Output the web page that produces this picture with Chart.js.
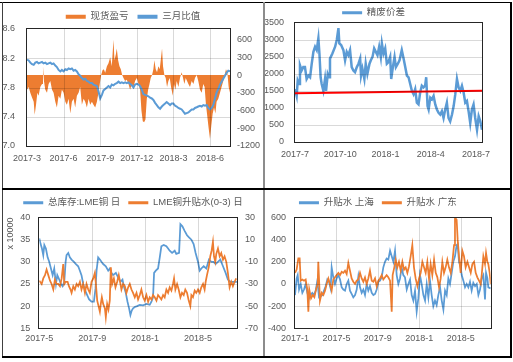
<!DOCTYPE html>
<html>
<head>
<meta charset="utf-8">
<script src="https://cdn.jsdelivr.net/npm/chart.js@4.4.0/dist/chart.umd.min.js"></script>
<style>
  body { margin: 0; background: #fff; }
  #wrap { position: relative; width: 513px; height: 362px; overflow: hidden; background: #fff; }
  canvas { position: absolute; z-index: 1; }
  .rule { position: absolute; background: #000; z-index: 3; }
  .grid { position: absolute; background: rgba(0, 0, 0, 0.15); z-index: 2; }
  .frame { position: absolute; background: #262626; z-index: 2; }
</style>
</head>
<body>
<div id="wrap">
  <canvas id="c1" width="260" height="185" style="left:3px;top:3px"></canvas>
  <canvas id="c2" width="245" height="185" style="left:265px;top:3px"></canvas>
  <canvas id="c3" width="260" height="166" style="left:3px;top:190px"></canvas>
  <canvas id="c4" width="245" height="166" style="left:265px;top:190px"></canvas>
  <div class="rule" style="left:0;top:2px;width:512px;height:1px"></div>
  <div class="rule" style="left:2px;top:2px;width:1px;height:356px;background:#404040"></div>
  <div class="rule" style="left:263px;top:2px;width:2px;height:356px;background:#8c8c8c"></div>
  <div class="rule" style="left:2px;top:188px;width:510px;height:2px"></div>
  <div class="rule" style="left:2px;top:356px;width:510px;height:2px"></div>
  <div class="rule" style="left:510px;top:2px;width:2px;height:356px"></div>
</div>
<script>
// 现货盈亏 / 三月比值, months since 2017-3
const profitMonths = [0,0.14,0.27,0.41,0.55,0.63,0.74,0.85,0.95,1.09,1.23,1.31,1.39,1.50,1.64,1.77,1.91,2.05,2.18,2.32,2.45,2.59,2.73,2.86,3.00,3.14,3.27,3.41,3.55,3.68,3.82,3.95,4.09,4.23,4.36,4.50,4.64,4.77,4.91,5.05,5.18,5.32,5.45,5.59,5.73,5.86,6.00,6.08,6.19,6.30,6.41,6.55,6.68,6.82,6.95,7.09,7.17,7.28,7.36,7.47,7.58,7.69,7.80,7.91,8.04,8.18,8.32,8.45,8.59,8.73,8.86,9.00,9.14,9.27,9.38,9.49,9.60,9.71,9.82,9.93,10.04,10.14,10.25,10.36,10.44,10.55,10.66,10.77,10.88,10.99,11.07,11.15,11.26,11.37,11.48,11.59,11.70,11.81,11.95,12.05,12.16,12.27,12.41,12.54,12.68,12.79,12.90,13.01,13.12,13.23,13.36,13.50,13.64,13.77,13.91,14.04,14.18,14.32,14.45,14.56,14.67,14.78,14.89,15.00,15.11,15.22,15.33,15.44,15.54,15.68,15.82,15.95,16.09,16.20,16.31,16.42,16.53,16.64];
const profitValues = [-250,-200,-300,-380,-450,-670,-500,-300,-350,-200,-150,150,-100,-250,-300,-150,-100,-250,-300,-450,-550,-350,-400,-250,-300,-450,-500,-400,-650,-450,-400,-550,-350,-300,-200,-500,-400,-450,-550,-400,-500,-450,-500,-550,-450,-300,-100,0,80,100,40,150,200,300,150,600,250,350,450,250,150,100,0,-50,-100,-80,-150,-250,-150,-200,-100,-50,-150,-250,-600,-780,-800,-750,-400,-250,-150,-50,0,100,250,100,50,150,100,300,450,150,0,-50,-200,-100,-50,-200,-350,-150,-250,-100,-200,-50,50,-50,-150,-50,-100,-150,-200,-100,-150,-50,0,-100,-250,-300,-150,-200,-500,-700,-900,-1080,-850,-650,-550,-650,-450,-400,-300,-200,-100,0,100,50,-200,-300];
const ratioMonths = [0,0.14,0.27,0.41,0.55,0.68,0.82,0.95,1.09,1.23,1.36,1.50,1.64,1.77,1.91,2.05,2.18,2.32,2.45,2.59,2.73,2.86,3.00,3.14,3.27,3.41,3.55,3.68,3.82,3.95,4.09,4.23,4.36,4.50,4.64,4.77,4.91,5.05,5.18,5.32,5.45,5.59,5.73,5.86,6.00,6.14,6.27,6.41,6.55,6.68,6.82,6.95,7.09,7.23,7.36,7.50,7.64,7.77,7.91,8.05,8.18,8.32,8.45,8.59,8.73,8.86,9.00,9.14,9.27,9.41,9.54,9.68,9.82,9.95,10.09,10.23,10.36,10.50,10.64,10.77,10.91,11.05,11.18,11.32,11.45,11.59,11.73,11.86,12.00,12.14,12.27,12.41,12.55,12.68,12.82,12.95,13.09,13.23,13.36,13.50,13.64,13.77,13.91,14.04,14.18,14.32,14.45,14.59,14.73,14.86,15.00,15.14,15.27,15.41,15.54,15.68,15.82,15.95,16.09,16.23,16.36,16.50,16.64];
const ratioValues = [8.18,8.17,8.14,8.12,8.11,8.14,8.15,8.13,8.14,8.15,8.13,8.14,8.12,8.13,8.14,8.12,8.13,8.10,8.08,8.04,8.02,8.04,8.02,8.05,8.04,8.06,8.05,8.06,8.03,8.04,8.02,7.98,7.96,7.93,7.91,7.92,7.89,7.88,7.86,7.86,7.84,7.83,7.82,7.75,7.65,7.70,7.76,7.78,7.80,7.82,7.80,7.84,7.83,7.85,7.86,7.88,7.86,7.87,7.86,7.87,7.86,7.87,7.85,7.83,7.80,7.84,7.85,7.84,7.82,7.77,7.71,7.70,7.69,7.68,7.66,7.65,7.63,7.59,7.56,7.53,7.51,7.54,7.56,7.58,7.60,7.58,7.56,7.58,7.58,7.55,7.54,7.52,7.51,7.50,7.47,7.44,7.45,7.46,7.48,7.50,7.50,7.52,7.53,7.54,7.55,7.54,7.56,7.55,7.56,7.52,7.50,7.52,7.56,7.65,7.73,7.78,7.84,7.88,7.92,7.96,8.00,8.03,8.02];
const ratioTicks = [7.0, 7.4, 7.8, 8.2, 8.6];
const profitTicks = [-1200, -900, -600, -300, 0, 300, 600];

// 精废价差, months since 2017-7
const spreadMonths = [0,0.11,0.18,0.27,0.33,0.44,0.55,0.66,0.77,0.89,1.00,1.11,1.22,1.33,1.44,1.55,1.62,1.70,1.77,1.88,1.99,2.06,2.17,2.26,2.32,2.48,2.66,2.77,2.88,2.94,3.06,3.21,3.32,3.43,3.54,3.65,3.76,3.87,3.98,4.10,4.21,4.32,4.38,4.47,4.60,4.69,4.80,4.94,5.03,5.14,5.25,5.36,5.47,5.58,5.69,5.76,5.87,5.98,6.09,6.20,6.31,6.38,6.49,6.60,6.69,6.82,6.93,7.08,7.20,7.31,7.42,7.53,7.64,7.75,7.86,7.97,8.08,8.19,8.30,8.41,8.52,8.63,8.70,8.79,8.86,8.97,9.08,9.19,9.30,9.41,9.52,9.63,9.74,9.85,9.96,10.07,10.18,10.29,10.41,10.52,10.63,10.74,10.85,10.96,11.07,11.18,11.29,11.40,11.51,11.62,11.73,11.84,11.95,12.07,12.18,12.29,12.40];
const spreadValues = [1550,1350,1800,1700,2250,2100,2200,2200,1850,1950,1900,2300,2650,2800,2700,3050,2600,1900,1700,1500,1850,1500,2000,1900,2450,2600,2800,3000,3350,2900,2850,2700,2400,2650,2550,2700,2200,2100,2050,2200,2300,2450,1950,2150,1850,2300,2000,2300,2400,2500,2750,2650,2550,2800,2500,2900,2600,2750,2300,2350,2500,1850,2200,2500,2200,2300,2400,2700,2450,2200,1950,1900,1700,1500,1400,1550,1150,1100,1450,1650,1600,1650,1900,1050,950,1300,1250,1350,1100,950,850,800,900,700,950,1150,700,600,800,1050,1400,1850,1600,1500,1650,1450,1150,1200,900,550,950,1100,700,350,750,600,350];
const trendMonths = [0, 12.4];
const trendValues = [1430, 1500];
const spreadTicks = [0, 500, 1000, 1500, 2000, 2500, 3000, 3500];

// 总库存:LME铜 / LME铜升贴水(0-3), months since 2017-5
const stockMonths = [0,0.10,0.20,0.30,0.38,0.50,0.63,0.75,0.88,1.01,1.13,1.26,1.36,1.51,1.64,1.76,1.89,1.99,2.06,2.19,2.31,2.44,2.62,2.77,2.94,3.07,3.19,3.32,3.47,3.62,3.77,3.95,4.13,4.25,4.33,4.45,4.58,4.70,4.83,5.03,5.21,5.33,5.46,5.58,5.79,5.96,6.14,6.29,6.39,6.54,6.67,6.79,6.89,6.99,7.09,7.22,7.40,7.60,7.85,8.10,8.35,8.48,8.60,8.68,8.81,8.98,9.11,9.23,9.41,9.61,9.74,9.86,10.04,10.24,10.36,10.57,10.67,10.82,10.99,11.17,11.32,11.50,11.67,11.82,12.00,12.13,12.25,12.43,12.63,12.83,13.01,13.18,13.33,13.51,13.69,13.89,14.09,14.26,14.44,14.64,14.94];
const stockValues = [35.3,34,33,31.5,33.8,33,31,30,28.5,27,28.5,25,27,26,25,24.5,25.5,30,31.5,32,31,30.5,30,29.5,29,28,27,25,23.5,22.5,21.5,21,21,24,28,31,30.5,30,29.5,29,28,28.5,27.5,27,27.5,26.5,25.5,26,24.5,23,21,19.5,18,19,19.5,19.8,20,20.3,20.2,20.5,20.3,21,22,27.5,28,28.5,31,33.5,33.8,33.5,33,32.5,32,32.5,31.8,32,38.5,38,37,36,35.5,35,34,32,30,28,28.5,29,28.5,30.5,30,30,29.5,30,30.5,29,27.5,26,25.5,25.5,25.5];
const lmeMonths = [0,0.18,0.30,0.43,0.55,0.68,0.81,0.93,1.06,1.18,1.31,1.43,1.56,1.69,1.81,1.89,1.99,2.14,2.24,2.36,2.44,2.57,2.69,2.82,2.94,3.07,3.19,3.32,3.45,3.57,3.70,3.82,3.95,4.08,4.20,4.28,4.38,4.48,4.58,4.65,4.73,4.83,4.96,5.03,5.13,5.23,5.33,5.41,5.51,5.64,5.76,5.89,6.01,6.09,6.21,6.34,6.47,6.59,6.72,6.84,6.97,7.09,7.22,7.35,7.47,7.60,7.72,7.85,7.97,8.10,8.23,8.35,8.48,8.60,8.73,8.86,8.98,9.11,9.23,9.36,9.48,9.61,9.74,9.86,9.99,10.11,10.19,10.29,10.42,10.54,10.67,10.79,10.92,11.04,11.17,11.30,11.42,11.50,11.62,11.75,11.87,12.00,12.13,12.25,12.38,12.50,12.58,12.68,12.81,12.93,13.03,13.13,13.21,13.31,13.38,13.51,13.64,13.76,13.89,14.01,14.14,14.26,14.39,14.52,14.64,14.77,14.89];
const lmeValues = [-27,-30,-25,-22,-17,-22,-27,-30,-35,-26,-30,-30,-32,-25,-12,-30,-28,-28,-32,-35,-38,-32,-35,-30,-32,-28,-35,-30,-38,-30,-35,-38,-28,-25,-20,-30,-45,-50,-55,-48,-42,-48,-52,-60,-48,-53,-45,-15,-30,-25,-33,-28,-22,-27,-35,-30,-32,-38,-33,-30,-35,-38,-42,-38,-44,-40,-35,-42,-45,-40,-46,-42,-44,-40,-42,-45,-40,-42,-44,-40,-42,-35,-38,-33,-36,-30,-25,-35,-30,-35,-42,-38,-40,-35,-38,-45,-50,-40,-42,-36,-38,-35,-38,-33,-30,-35,-28,-22,-15,-5,0,8,-5,-10,-3,2,-5,-2,-8,-5,-10,-20,-33,-28,-32,-28,-25];
const stockTicks = [15, 20, 25, 30, 35, 40];
const lmeTicks = [-70, -50, -30, -10, 10, 30];

// 升贴水 上海 / 广东, months since 2017-1
const shMonths = [0,0.16,0.26,0.39,0.55,0.71,0.87,1.03,1.19,1.35,1.51,1.67,1.84,2.00,2.16,2.32,2.48,2.64,2.80,2.96,3.12,3.28,3.44,3.54,3.70,3.86,4.02,4.19,4.35,4.51,4.67,4.83,4.99,5.15,5.31,5.47,5.63,5.80,5.96,6.12,6.28,6.44,6.60,6.76,6.92,7.08,7.24,7.41,7.57,7.73,7.89,8.05,8.21,8.37,8.53,8.69,8.85,9.01,9.18,9.34,9.50,9.66,9.82,9.98,10.14,10.30,10.46,10.62,10.79,10.95,11.11,11.27,11.43,11.59,11.75,11.91,12.07,12.23,12.40,12.56,12.72,12.88,13.04,13.20,13.36,13.52,13.68,13.84,14.01,14.17,14.33,14.49,14.65,14.81,14.97,15.13,15.29,15.45,15.61,15.71,15.84,16.00,16.10,16.26,16.42,16.58,16.74,16.90,17.06,17.22,17.39,17.55,17.71,17.87,18.03,18.19,18.35,18.45,18.58,18.67,18.90];
const shValues = [-100,50,80,-50,0,-80,-50,0,-80,-130,-100,-80,-100,-60,30,-120,-110,-100,-60,-20,40,20,-40,150,60,0,50,80,40,-30,-50,-60,0,30,-60,-90,-120,-100,-50,70,-30,-80,-50,-100,0,-60,-20,-80,-100,-90,-50,20,30,60,150,200,230,220,300,250,200,300,80,0,50,150,80,60,-50,0,40,-100,-150,-60,-250,-130,80,0,-100,-150,0,-120,30,-100,-200,-150,-190,-100,-30,-150,-230,-60,-100,50,0,100,200,250,350,360,200,150,80,30,-30,0,-30,20,-60,10,-20,0,-100,-50,50,80,-140,100,50,-30,-40];
const gdMonths = [0,0.16,0.32,0.45,0.55,0.71,0.87,1.03,1.19,1.29,1.38,1.55,1.71,1.87,2.03,2.19,2.25,2.41,2.58,2.74,2.90,3.06,3.22,3.38,3.54,3.70,3.86,4.02,4.19,4.35,4.51,4.67,4.83,4.99,5.15,5.31,5.47,5.63,5.80,5.96,6.12,6.28,6.44,6.60,6.76,6.92,7.08,7.24,7.41,7.57,7.73,7.89,8.05,8.21,8.37,8.53,8.69,8.85,9.01,9.18,9.34,9.43,9.59,9.72,9.88,10.04,10.21,10.37,10.53,10.69,10.85,11.01,11.17,11.33,11.49,11.65,11.82,11.98,12.14,12.30,12.46,12.62,12.78,12.94,13.10,13.26,13.43,13.59,13.75,13.91,14.07,14.23,14.39,14.55,14.71,14.87,15.04,15.20,15.36,15.45,15.61,15.71,15.84,16.00,16.16,16.32,16.48,16.65,16.81,16.97,17.13,17.29,17.45,17.61,17.77,17.93,18.03,18.19,18.35,18.45,18.58,18.67,18.80,18.90];
const gdValues = [100,130,230,230,30,40,30,40,-50,-250,-50,-130,-100,-120,-50,0,200,-150,-80,-100,-60,0,50,0,-60,40,60,80,100,80,110,100,120,90,190,120,50,20,0,30,40,100,50,20,60,0,50,120,30,20,50,-20,30,50,80,40,60,80,60,30,-250,80,150,220,150,200,120,200,130,150,100,160,250,350,150,50,-20,50,100,200,150,100,200,50,180,80,220,100,60,-30,50,200,100,150,220,150,100,200,350,600,580,400,250,100,300,250,150,200,150,100,180,200,100,60,30,0,80,250,180,280,200,180,100,0];
const premiumTicks = [-400, -200, 0, 200, 400, 600];

const BLUE = '#5B9BD5';
const ORANGE = '#ED7D31';
const TXT = '#595959';
const FONT = { family: '"Liberation Sans", "Noto Sans CJK SC", sans-serif', size: 9 };
const LEGEND_FONT = { family: '"Liberation Sans", "Noto Sans CJK SC", sans-serif', size: 9.5 };

const pts = (xs, ys) => xs.map((x, i) => ({ x: x, y: ys[i] }));

// tick label like 2017-3 for a month offset
function monthLabel(year, month) {
    return v => {
        const t = month - 1 + v;
        return (year + Math.floor(t / 12)) + '-' + (t % 12 + 1);
    };
}

// gridlines and plot frame, placed from the chart's own scales
function addPlotLines(chart) {
    const wrap = document.getElementById('wrap');
    const cv = chart.canvas;
    const ox = cv.offsetLeft, oy = cv.offsetTop;
    const a = chart.chartArea;
    const l = Math.round(ox + a.left), r = Math.round(ox + a.right);
    const t = Math.round(oy + a.top), b = Math.round(oy + a.bottom);
    const put = (cls, x, y, w, h) => {
        const d = document.createElement('div');
        d.className = cls;
        d.style.left = x + 'px'; d.style.top = y + 'px';
        d.style.width = w + 'px'; d.style.height = h + 'px';
        wrap.appendChild(d);
    };
    Object.values(chart.scales).forEach(s => {
        if (!s.options.showGridLines) return;
        s.ticks.forEach(tk => {
            const p = Math.round(s.getPixelForValue(tk.value));
            if (s.isHorizontal()) {
                if (ox + p > l && ox + p < r) put('grid', ox + p, t, 1, b - t);
            } else if (oy + p > t && oy + p < b) {
                put('grid', l, oy + p, r - l, 1);
            }
        });
    });
    put('frame', l - 1, t - 1, r - l + 2, 1);
    put('frame', l - 1, b, r - l + 2, 1);
    put('frame', l - 1, t - 1, 1, b - t + 2);
    put('frame', r, t - 1, 1, b - t + 2);
}

function legendOpts(padding, maxHeight, boxHeight) {
    return {
        position: 'top',
        maxHeight: maxHeight,
        labels: {
            color: TXT, font: LEGEND_FONT, boxWidth: 20, boxHeight: boxHeight, padding: padding,
            sort: (a, b) => a.datasetIndex - b.datasetIndex,
            filter: (item, data) => !data.datasets[item.datasetIndex].noLegend,
            generateLabels: chart => Chart.defaults.plugins.legend.labels.generateLabels(chart)
                .map(l => Object.assign(l, { lineWidth: 0 }))
        }
    };
}

// month ticks every `step` months from 0 up to `max`
function monthTicks(max, step) {
    const out = [];
    for (let v = 0; v <= max; v += step) out.push(v);
    return out;
}

function xAxis(max, step, year, month, height, padding, showGrid) {
    const tickValues = monthTicks(max, step);
    return {
        type: 'linear', min: 0, max: max, showGridLines: showGrid,
        afterBuildTicks: s => { s.ticks = tickValues.map(v => ({ value: v })); },
        ticks: { autoSkip: false, maxRotation: 0, padding: padding, color: TXT, font: FONT,
            callback: monthLabel(year, month) },
        grid: { display: false, drawTicks: false },
        border: { display: false },
        afterFit: s => { s.height = height; }
    };
}

function yAxis(pos, tickValues, max, width, padding, showGrid, fmt) {
    return {
        position: pos, min: tickValues[0], max: max, showGridLines: showGrid,
        afterBuildTicks: s => { s.ticks = tickValues.map(v => ({ value: v })); },
        ticks: { padding: padding, color: TXT, font: FONT, callback: v => fmt(v) },
        grid: { display: false, drawTicks: false },
        border: { display: false },
        afterFit: s => { s.width = width; }
    };
}

const common = { responsive: false, animation: false, events: [] };

// top left: 现货盈亏 and 三月比值
const chart1 = new Chart(document.getElementById('c1'), {
    type: 'line',
    data: {
        datasets: [
            { label: '现货盈亏', data: pts(profitMonths, profitValues), yAxisID: 'y1', order: 1,
              borderWidth: 0, pointRadius: 0, tension: 0, fill: 'origin',
              backgroundColor: ORANGE, borderColor: ORANGE },
            { label: '三月比值', data: pts(ratioMonths, ratioValues), yAxisID: 'y', order: 0,
              borderWidth: 2, pointRadius: 0, tension: 0, fill: false,
              backgroundColor: BLUE, borderColor: BLUE }
        ]
    },
    options: Object.assign({}, common, {
        layout: { padding: { top: 0, left: 0, right: 0, bottom: 0 } },
        plugins: { legend: legendOpts(9, 26, 4), tooltip: { enabled: false } },
        scales: {
            x: xAxis(16.64, 3, 2017, 3, 42, 7, true),
            y: yAxis('left', ratioTicks, 8.6, 24, 12, true, v => v.toFixed(1)),
            y1: yAxis('right', profitTicks, 780, 33, 7, false, v => String(v))
        }
    })
});

// top right: 精废价差 with its trend line
const chart2 = new Chart(document.getElementById('c2'), {
    type: 'line',
    data: {
        datasets: [
            { label: '精废价差', data: pts(spreadMonths, spreadValues), order: 1,
              borderWidth: 2.5, pointRadius: 0, tension: 0,
              backgroundColor: BLUE, borderColor: BLUE },
            { label: '线性(精废价差)', noLegend: true, data: pts(trendMonths, trendValues), order: 0,
              borderWidth: 2, pointRadius: 0, backgroundColor: '#FF0000', borderColor: '#FF0000' }
        ]
    },
    options: Object.assign({}, common, {
        layout: { padding: { top: 0, left: 0, right: 28, bottom: 0 } },
        plugins: { legend: legendOpts(5, 20, 3), tooltip: { enabled: false } },
        scales: {
            x: xAxis(12.4, 3, 2017, 7, 46.3, 7, false),
            y: yAxis('left', spreadTicks, 3500, 30, 11, true, v => String(v))
        }
    })
});

// bottom left: LME copper stocks and LME spread
const lmeOptions = Object.assign({}, common, {
    layout: { padding: { top: 0, left: 0, right: 0, bottom: 0 } },
    plugins: { legend: legendOpts(8, 33, 3), tooltip: { enabled: false } },
    scales: {
        x: xAxis(14.95, 4, 2017, 5, 27.7, 5, true),
        y: yAxis('left', stockTicks, 40, 36.3, 9, true, v => String(v)),
        y1: yAxis('right', lmeTicks, 30, 26, 8, false, v => String(v))
    }
});
lmeOptions.scales.y.title = { display: true, text: 'x 10000', align: 'end', color: TXT,
    font: FONT, padding: { top: 2, bottom: 0 } };
const chart3 = new Chart(document.getElementById('c3'), {
    type: 'line',
    data: {
        datasets: [
            { label: '总库存:LME铜 日', data: pts(stockMonths, stockValues), yAxisID: 'y', order: 1,
              borderWidth: 1.75, pointRadius: 0, tension: 0, backgroundColor: BLUE, borderColor: BLUE },
            { label: 'LME铜升贴水(0-3) 日', data: pts(lmeMonths, lmeValues), yAxisID: 'y1', order: 0,
              borderWidth: 1.75, pointRadius: 0, tension: 0, backgroundColor: ORANGE, borderColor: ORANGE }
        ]
    },
    options: lmeOptions
});

// bottom right: 升贴水 上海 / 广东
const chart4 = new Chart(document.getElementById('c4'), {
    type: 'line',
    data: {
        datasets: [
            { label: '升贴水 上海', data: pts(shMonths, shValues), order: 1,
              borderWidth: 1.75, pointRadius: 0, tension: 0, backgroundColor: BLUE, borderColor: BLUE },
            { label: '升贴水 广东', data: pts(gdMonths, gdValues), order: 0,
              borderWidth: 1.75, pointRadius: 0, tension: 0, backgroundColor: ORANGE, borderColor: ORANGE }
        ]
    },
    options: Object.assign({}, common, {
        layout: { padding: { top: 0, left: 0, right: 19.3, bottom: 0 } },
        plugins: { legend: legendOpts(8, 33, 3), tooltip: { enabled: false } },
        scales: {
            x: xAxis(18.9, 4, 2017, 1, 27.7, 5, true),
            y: yAxis('left', premiumTicks, 600, 30, 9, true, v => String(v))
        }
    })
});

[chart1, chart2, chart3, chart4].forEach(addPlotLines);
</script>
</body>
</html>
